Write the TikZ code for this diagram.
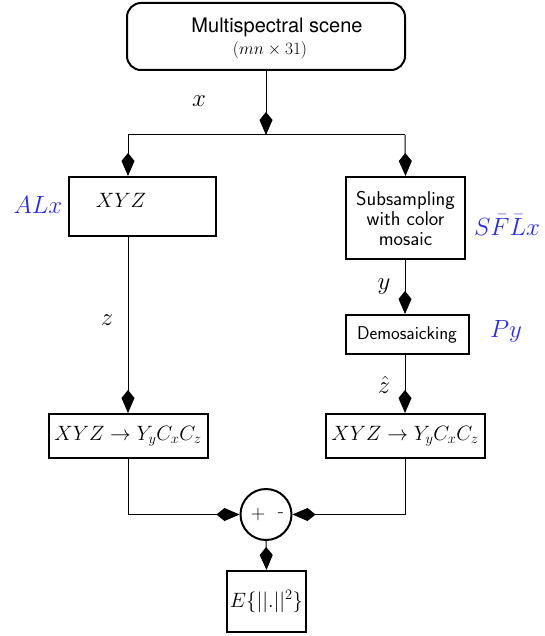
\documentclass[tikz,border=0pt]{standalone}
\usepackage{fontspec}
\newfontfamily\heros{TeX Gyre Heros}
\usetikzlibrary{arrows.meta}
\definecolor{lblue}{RGB}{40,40,255}
\tikzset{
  blk/.style={draw, line width=2pt, inner sep=0pt},
  wire/.style={line width=1pt},
  tip/.style={wire, -{Kite[length=23pt, width=13pt, inset=8pt]}},
  lab/.style={font=\fontsize{24}{26}\selectfont},
  blab/.style={lab, text=lblue},
  mth/.style={font=\fontsize{20}{22}\selectfont},
  sans/.style={font=\fontsize{20}{23}\selectfont\sffamily, align=center}
}
\begin{document}
\begin{tikzpicture}[x=1pt, y=-1pt]
\useasboundingbox (0,0) rectangle (545,636);
% top box
\node[blk, rounded corners=14pt, minimum width=278pt, minimum height=67pt] (scene) at (266,36.5) {};
\node[font=\fontsize{20}{22}\selectfont\heros] (scenet) at (277,27) {Multispectral scene};
\node[font=\fontsize{18}{20}\selectfont] (scenem) at (270,50) {$(mn\times 31)$};
% split point
\coordinate (split) at (266,135);
\coordinate (sl) at (128,135);
\coordinate (sr) at (405,135);
\draw[tip] (scene.south) -- (split);
\draw[wire] (sl) -- (sr);
\node[lab] (lx) at (199,101) {$x$};
% left branch
\node[blk, minimum width=147pt, minimum height=59pt] (xyz) at (142.5,206.5) {};
\node[mth] (xyzt) at (121,200) {$XYZ$};
\node[blab] (alx) at (38,205) {$ALx$};
\draw[tip] (sl) -- (sl |- xyz.north);
% right branch
\node[blk, sans, minimum width=119pt, minimum height=82pt] (sub) at (405.5,218) {Subsampling\\[-3pt]with color\\[-3pt]mosaic};
\node[blab] (sflx) at (507,225) {$S\bar F\bar Lx$};
\draw[tip] (sr) -- (sub.north);
\node[blk, sans, font=\fontsize{18.5}{22}\selectfont\sffamily, minimum width=123pt, minimum height=39pt] (demo) at (407,334.5) {Demosaicking};
\node[blab] (py) at (506,331) {$Py$};
\draw[tip] (sub.south -| sr) -- (demo.north -| sr);
\node[lab] (ly) at (384,287) {$y$};
% lower boxes
\node[blk, mth, minimum width=159pt, minimum height=44pt] (cl) at (128,436) {$XYZ\rightarrow Y_yC_xC_z$};
\node[blk, mth, minimum width=159pt, minimum height=44pt] (cr) at (405,436) {$XYZ\rightarrow Y_yC_xC_z$};
\draw[tip] (xyz.south -| sl) -- (cl.north);
\node[lab] (lz) at (107,320) {$z$};
\draw[tip] (demo.south -| sr) -- (cr.north);
\node[lab] (lzh) at (384,385) {$\hat z$};
% difference
\node[draw, circle, line width=2pt, minimum size=51pt, inner sep=0pt] (diff) at (266,514.5) {};
\node[font=\fontsize{20}{22}\selectfont] (plus) at (258,515) {+};
\node[font=\fontsize{20}{22}\selectfont] (minus) at (281,515) {-};
\coordinate (bl) at (128,514.5);
\coordinate (br) at (405,514.5);
\draw[tip] (cl.south) -- (bl) -- (diff.west);
\draw[tip] (cr.south) -- (br) -- (diff.east);
% error
\node[blk, mth, minimum width=79pt, minimum height=61pt] (err) at (266.5,601.5) {$E\{||.||^2\}$};
\draw[tip] (diff.south) -- (err.north);
\end{tikzpicture}
\end{document}
